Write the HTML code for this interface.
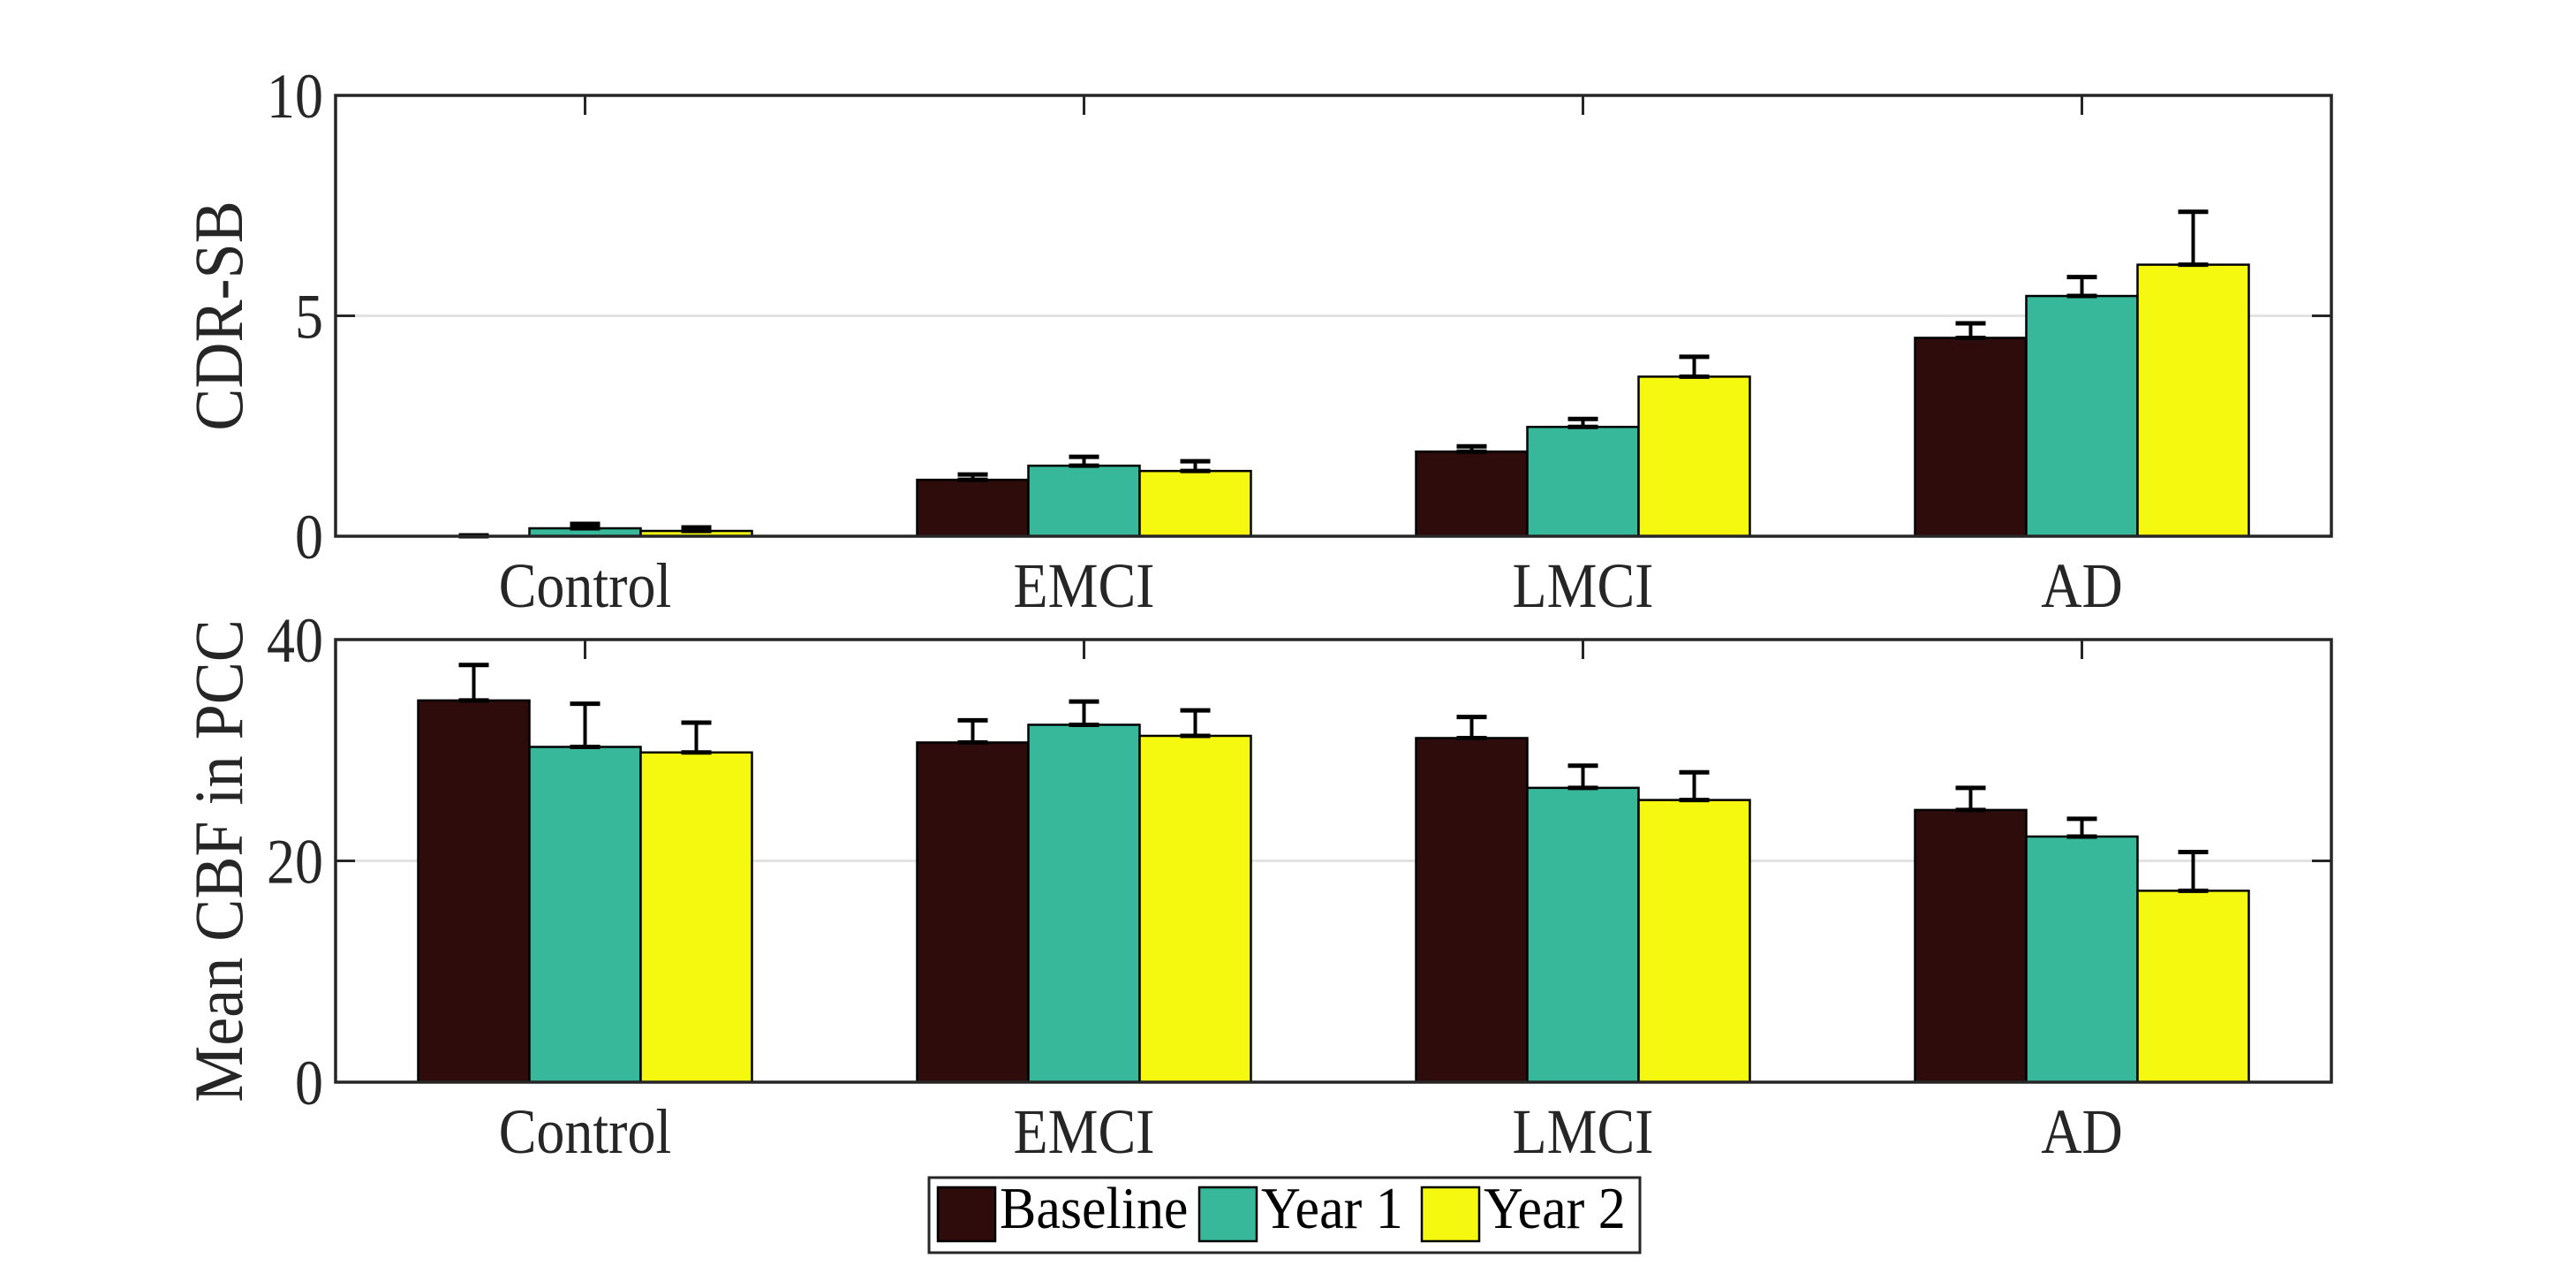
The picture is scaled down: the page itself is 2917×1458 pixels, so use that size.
<!DOCTYPE html>
<html><head><meta charset="utf-8"><style>
html,body{margin:0;padding:0;background:#fff;width:2917px;height:1458px;overflow:hidden}
svg{display:block;font-family:"Liberation Serif",serif}
</style></head><body>
<svg id="chart" width="2917" height="1458" viewBox="0 0 2917 1458" xmlns="http://www.w3.org/2000/svg"></svg>
<script>
const categories = ["Control","EMCI","LMCI","AD"];
const seriesNames = ["Baseline","Year 1","Year 2"];
const cdrBaseline = [0.0, 1.28, 1.92, 4.50];
const cdrYear1 = [0.18, 1.60, 2.48, 5.45];
const cdrYear2 = [0.12, 1.48, 3.62, 6.16];
const cdrErrBaseline = [0.02, 0.12, 0.12, 0.33];
const cdrErrYear1 = [0.10, 0.20, 0.18, 0.43];
const cdrErrYear2 = [0.08, 0.22, 0.45, 1.20];
const cbfBaseline = [34.5, 30.7, 31.1, 24.6];
const cbfYear1 = [30.3, 32.3, 26.6, 22.2];
const cbfYear2 = [29.8, 31.3, 25.5, 17.3];
const cbfErrBaseline = [3.2, 2.0, 1.9, 2.0];
const cbfErrYear1 = [3.9, 2.1, 2.0, 1.6];
const cbfErrYear2 = [2.7, 2.3, 2.5, 3.5];
const cdrTicks = [0, 5, 10];
const cbfTicks = [0, 20, 40];

const colors = ["#2e0c0c","#38b89a","#f5f90f"];
const NS = "http://www.w3.org/2000/svg";
const svg = document.getElementById("chart");
function mk(tag, attrs, parent){const e=document.createElementNS(NS,tag);for(const k in attrs)e.setAttribute(k,attrs[k]);(parent||svg).appendChild(e);return e;}

const X0=380, X1=2640;
function xScale(i){return X0+(X1-X0)*(i+0.5)/categories.length;}
const barW=126;

function panel(name, top, bottom, ymax, vals, errs, ticks, ylabel, gridVal){
  const g=mk("g",{});
  
  
  const y=v=>bottom-(bottom-top)*v/ymax;
  const gl=mk("line",{x1:X0,x2:X1,y1:y(gridVal),y2:y(gridVal),stroke:"#e3e3e3","stroke-width":3},g);
  
  
  for(let s=0;s<3;s++){
    for(let i=0;i<categories.length;i++){
      const cx=xScale(i)+(s-1)*barW;
      const v=vals[s][i], e=errs[s][i];
      const r=mk("rect",{x:cx-barW/2,y:y(v),width:barW,height:bottom-y(v),fill:colors[s],stroke:"#000","stroke-width":2.5},g);
      
      
      const eg=mk("g",{stroke:"#000","stroke-width":5},g);
      
      
      mk("line",{x1:cx,x2:cx,y1:y(v),y2:y(v+e),"stroke-width":4},eg);
      mk("line",{x1:cx-17,x2:cx+17,y1:y(v+e),y2:y(v+e)},eg);
      mk("line",{x1:cx-17,x2:cx+17,y1:y(v),y2:y(v)},eg);
    }
  }
  const box=mk("rect",{x:X0,y:top,width:X1-X0,height:bottom-top,fill:"none",stroke:"#262626","stroke-width":3.5},g);
  
  
  ticks.forEach(t=>{
    mk("line",{x1:X0,x2:X0+22,y1:y(t),y2:y(t),stroke:"#262626","stroke-width":3},g);
    mk("line",{x1:X1-22,x2:X1,y1:y(t),y2:y(t),stroke:"#262626","stroke-width":3},g);
    const tl=mk("text",{x:0,y:0,"text-anchor":"end","font-size":64,fill:"#262626",transform:`translate(${X0-14},${y(t)+25}) scale(1,1.12)`},g);
    tl.textContent=t;
    
    
  });
  categories.forEach((c,i)=>{
    mk("line",{x1:xScale(i),x2:xScale(i),y1:top,y2:top+22,stroke:"#262626","stroke-width":3},g);
    const xl=mk("text",{x:0,y:0,"text-anchor":"middle","font-size":64,fill:"#262626",transform:`translate(${xScale(i)},${bottom+80}) scale(1,1.12)`},g);
    xl.textContent=c;
    
    
  });
  const yl=mk("text",{x:0,y:0,"text-anchor":"middle","font-size":70,fill:"#262626",transform:`translate(274,${(top+bottom)/2}) rotate(-90) scale(1.03,1.12)`},g);
  yl.textContent=ylabel;
  
  
}

panel("cdr",108,607,10,[cdrBaseline,cdrYear1,cdrYear2],[cdrErrBaseline,cdrErrYear1,cdrErrYear2],cdrTicks,"CDR-SB",5);
panel("cbf",724,1225,40,[cbfBaseline,cbfYear1,cbfYear2],[cbfErrBaseline,cbfErrYear1,cbfErrYear2],cbfTicks,"Mean CBF in PCC",20);

const lg=mk("g",{});


mk("rect",{x:1052,y:1333,width:805,height:85,fill:"#fff",stroke:"#262626","stroke-width":3},lg);
const patchX=[1062,1358,1610];
seriesNames.forEach((n,s)=>{
  const p=mk("rect",{x:patchX[s],y:1344,width:65,height:61,fill:colors[s],stroke:"#000","stroke-width":2.5},lg);
  
  
  const t=mk("text",{x:0,y:0,"font-size":62,fill:"#000",transform:`translate(${patchX[s]+70},1390) scale(1,1.08)`},lg);
  t.textContent=n;
  
  
});
</script>
</body></html>
